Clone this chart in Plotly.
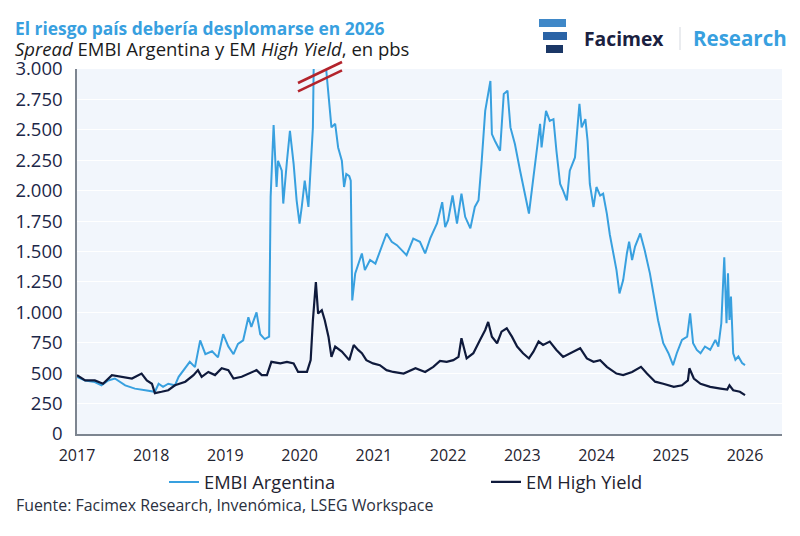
import plotly.graph_objects as go
import pandas as pd

# ------------------ DATA ------------------
# time as decimal years, spreads in basis points
embi_t = [
    2017.00, 2017.11, 2017.24, 2017.33, 2017.42, 2017.51, 2017.65, 2017.78, 2017.92, 2018.05,
    2018.10, 2018.16, 2018.23, 2018.32, 2018.37, 2018.46, 2018.52, 2018.59, 2018.66, 2018.73,
    2018.82, 2018.90, 2018.97, 2019.04, 2019.11, 2019.17, 2019.24, 2019.31, 2019.35, 2019.42,
    2019.47, 2019.53, 2019.59, 2019.61, 2019.65, 2019.69, 2019.71, 2019.76, 2019.78, 2019.83,
    2019.87, 2019.89, 2019.92, 2019.96, 2020.00, 2020.03, 2020.07, 2020.12, 2020.14, 2020.18,
    2020.19, 2020.22, 2020.26, 2020.30, 2020.34, 2020.36, 2020.39, 2020.43, 2020.48, 2020.52,
    2020.57, 2020.60, 2020.63, 2020.67, 2020.69, 2020.71, 2020.75, 2020.79, 2020.84, 2020.88,
    2020.95, 2021.02, 2021.08, 2021.17, 2021.24, 2021.31, 2021.44, 2021.53, 2021.62, 2021.69,
    2021.76, 2021.85, 2021.92, 2021.96, 2022.00, 2022.06, 2022.12, 2022.18, 2022.23, 2022.30,
    2022.36, 2022.41, 2022.45, 2022.50, 2022.57, 2022.59, 2022.63, 2022.70, 2022.75, 2022.80,
    2022.84, 2022.90, 2022.97, 2023.04, 2023.09, 2023.15, 2023.20, 2023.24, 2023.26, 2023.32,
    2023.37, 2023.42, 2023.46, 2023.51, 2023.55, 2023.60, 2023.64, 2023.71, 2023.77, 2023.80,
    2023.85, 2023.88, 2023.91, 2023.96, 2024.00, 2024.05, 2024.09, 2024.14, 2024.18, 2024.23,
    2024.27, 2024.31, 2024.36, 2024.41, 2024.44, 2024.48, 2024.52, 2024.59, 2024.65, 2024.72,
    2024.77, 2024.83, 2024.90, 2024.97, 2025.03, 2025.08, 2025.15, 2025.22, 2025.26, 2025.30,
    2025.35, 2025.40, 2025.46, 2025.53, 2025.60, 2025.64, 2025.68, 2025.72, 2025.75, 2025.77,
    2025.79, 2025.81, 2025.84, 2025.87, 2025.91, 2025.96, 2026.00,
]
embi_v = [
    470, 440, 427, 400, 440, 456, 400, 373, 360, 347,
    413, 387, 413, 400, 470, 550, 593, 550, 770, 656,
    680, 630, 820, 720, 656, 740, 770, 960, 880, 1000,
    820, 780, 800, 1950, 2540, 2030, 2246, 2164, 1894, 2246,
    2492, 2383, 2218, 1921, 1730, 1866, 2082, 1866, 2082, 2520,
    2984, 3600, 4300, 3900, 3400, 2990, 2795, 2520, 2550, 2355,
    2246, 2030, 2137, 2120, 2082, 1098, 1320, 1387, 1484, 1347,
    1430, 1400, 1497, 1648, 1580, 1552, 1470, 1606, 1580, 1484,
    1610, 1730, 1905, 1700, 1757, 1960, 1730, 1975, 1785, 1690,
    1866, 1921, 2220, 2656, 2902, 2465, 2410, 2328, 2795, 2822,
    2520, 2383, 2164, 1975, 1812, 2110, 2355, 2550, 2355, 2656,
    2574, 2588, 2328, 2055, 2000, 1921, 2164, 2273, 2713, 2520,
    2588, 2410, 2055, 1866, 2030, 1960, 1975, 1812, 1640, 1484,
    1347, 1155, 1265, 1484, 1580, 1430, 1540, 1648, 1510, 1320,
    1155, 935, 746, 664, 566, 664, 773, 800, 992, 746,
    691, 664, 719, 691, 773, 719, 910, 1453, 910, 1320,
    937, 1130, 664, 610, 637, 583, 566,
]

hy_t = [
    2017.00, 2017.11, 2017.24, 2017.35, 2017.47, 2017.60, 2017.74, 2017.87, 2017.94, 2018.01,
    2018.05, 2018.14, 2018.23, 2018.32, 2018.46, 2018.57, 2018.63, 2018.68, 2018.77, 2018.86,
    2018.95, 2019.04, 2019.11, 2019.22, 2019.33, 2019.42, 2019.49, 2019.56, 2019.62, 2019.74,
    2019.83, 2019.92, 2019.98, 2020.10, 2020.15, 2020.18, 2020.22, 2020.25, 2020.30, 2020.34,
    2020.39, 2020.43, 2020.48, 2020.57, 2020.67, 2020.73, 2020.79, 2020.84, 2020.90, 2020.99,
    2021.08, 2021.17, 2021.26, 2021.40, 2021.56, 2021.69, 2021.80, 2021.89, 2021.98, 2022.07,
    2022.14, 2022.18, 2022.25, 2022.34, 2022.43, 2022.50, 2022.54, 2022.59, 2022.66, 2022.72,
    2022.79, 2022.86, 2022.93, 2023.01, 2023.09, 2023.15, 2023.22, 2023.28, 2023.37, 2023.46,
    2023.55, 2023.64, 2023.78, 2023.87, 2023.96, 2024.05, 2024.14, 2024.27, 2024.36, 2024.48,
    2024.60, 2024.68, 2024.79, 2024.90, 2025.04, 2025.15, 2025.23, 2025.25, 2025.31, 2025.40,
    2025.53, 2025.67, 2025.76, 2025.79, 2025.84, 2025.93, 2026.00,
]
hy_v = [
    484, 440, 440, 413, 484, 470, 456, 497, 440, 413,
    336, 347, 360, 400, 430, 484, 525, 470, 510, 484,
    540, 525, 456, 470, 497, 525, 484, 484, 593, 580,
    593, 580, 510, 510, 607, 935, 1249, 990, 1017, 935,
    800, 634, 719, 677, 607, 732, 691, 664, 607, 580,
    566, 525, 510, 497, 540, 510, 552, 600, 593, 607,
    634, 787, 621, 664, 773, 855, 921, 800, 746, 841,
    869, 800, 719, 664, 621, 677, 760, 732, 760, 691,
    634, 664, 705, 621, 593, 607, 552, 497, 484, 510,
    552, 497, 430, 413, 387, 400, 440, 540, 456, 413,
    387, 373, 365, 400, 360, 347, 320,
]

y_ticks = list(range(0, 3001, 250))


def to_date(t):
    year = int(t)
    return pd.Timestamp(year, 1, 1) + pd.Timedelta(days=(t - year) * 365.25)


embi_dates = [to_date(t) for t in embi_t]
hy_dates = [to_date(t) for t in hy_t]

# ------------------ COLOURS ------------------
LIGHT_BLUE = "#38a0df"
NAVY = "#0f1a3c"
FONT = "Open Sans"

# plot area in pixels (for placing decorations)
L, R, T, B = 77, 782, 69, 434


def px_x(px):
    return (px - L) / (R - L)


def px_y(py):
    return (B - py) / (B - T)


# ------------------ FIGURE ------------------
fig = go.Figure()

fig.add_trace(go.Scatter(
    x=embi_dates, y=embi_v, mode="lines", name="EMBI Argentina",
    line=dict(color=LIGHT_BLUE, width=2), legend="legend",
))
fig.add_trace(go.Scatter(
    x=hy_dates, y=hy_v, mode="lines", name="EM High Yield",
    line=dict(color=NAVY, width=2.2), legend="legend2",
))

# -------- AXES --------
fig.update_xaxes(
    type="date",
    range=["2017-01-01", "2026-07-02"],
    dtick="M12",
    tick0="2017-01-01",
    tickformat="%Y",
    showgrid=False,
    showline=True, linecolor="#7d8590", linewidth=1.5,
    ticks="outside", ticklen=6, tickcolor="rgba(0,0,0,0)",
    tickfont=dict(family=FONT, size=16, color="#1f2330"),
)
fig.update_yaxes(
    range=[0, 3000],
    tickvals=y_ticks,
    tickformat=",",
    showgrid=True, gridcolor="#ffffff", gridwidth=1,
    zeroline=False,
    showline=True, linecolor="#7d8590", linewidth=1.5,
    ticklabelstandoff=9,
    tickfont=dict(family=FONT, size=18.5, color="#1c2748"),
)

# -------- AXIS BREAK MARKS --------
for y_off in (0, 8.4):
    fig.add_shape(
        type="line", xref="paper", yref="paper",
        x0=px_x(298), y0=px_y(83 + y_off), x1=px_x(342), y1=px_y(62 + y_off),
        line=dict(color="#b3232b", width=2.5),
    )

# -------- TITLES --------
fig.add_annotation(
    text="<b>El riesgo país debería desplomarse en 2026</b>",
    xref="paper", yref="paper", x=px_x(14), y=px_y(28.5),
    xanchor="left", yanchor="middle", showarrow=False, borderpad=0,
    font=dict(family=FONT, size=17.4, color=LIGHT_BLUE),
)
fig.add_annotation(
    text="<i>Spread</i> EMBI Argentina y EM <i>High Yield</i>, en pbs",
    xref="paper", yref="paper", x=px_x(14), y=px_y(48.5),
    xanchor="left", yanchor="middle", showarrow=False, borderpad=0,
    font=dict(family=FONT, size=18.5, color="#1b1b1b"),
)
fig.add_annotation(
    text="Fuente: Facimex Research, Invenómica, LSEG Workspace",
    xref="paper", yref="paper", x=px_x(14), y=px_y(505),
    xanchor="left", yanchor="middle", showarrow=False,
    font=dict(family=FONT, size=15.9, color="#2a3040"),
)

# -------- LOGO --------
logo_bars = [
    (539, 566, 19, 27, "#3f88c8"),
    (543, 567, 32, 40, "#2a63a6"),
    (546, 563, 45, 53, "#1b3766"),
]
for x0, x1, y0, y1, col in logo_bars:
    fig.add_shape(
        type="rect", xref="paper", yref="paper",
        x0=px_x(x0), x1=px_x(x1), y0=px_y(y1), y1=px_y(y0),
        fillcolor=col, line=dict(width=0),
    )
fig.add_annotation(
    text="<b>Facimex</b>", xref="paper", yref="paper",
    x=px_x(582), y=px_y(38), xanchor="left", yanchor="middle", showarrow=False,
    font=dict(family=FONT, size=19.3, color="#1a2140"),
)
fig.add_shape(
    type="line", xref="paper", yref="paper",
    x0=px_x(680), x1=px_x(680), y0=px_y(50), y1=px_y(27),
    line=dict(color="#d5d9e0", width=1),
)
fig.add_annotation(
    text="<b>Research</b>", xref="paper", yref="paper",
    x=px_x(691), y=px_y(38), xanchor="left", yanchor="middle", showarrow=False,
    font=dict(family=FONT, size=20.5, color=LIGHT_BLUE),
)

# ------------------ FINAL LAYOUT ------------------
LEGEND_STYLE = dict(
    orientation="h",
    y=px_y(482),
    xanchor="left", yanchor="middle",
    font=dict(family=FONT, size=18.3, color="#1f2330"),
    bgcolor="rgba(0,0,0,0)",
)
fig.update_layout(
    width=800, height=536,
    margin=dict(l=L, r=800 - R, t=T, b=536 - B),
    paper_bgcolor="white",
    plot_bgcolor="#f2f6fc",
    separators=",.",
    font=dict(family=FONT, color="#1f2330"),
    showlegend=True,
    legend=dict(x=px_x(164), **LEGEND_STYLE),
    legend2=dict(x=px_x(486), **LEGEND_STYLE),
)

# page body has a default 8px margin; drop it so the figure sits at the corner
fig.write_html(
    "out.html",
    config={"displayModeBar": False},
    post_script="document.body.style.margin='0';",
)
